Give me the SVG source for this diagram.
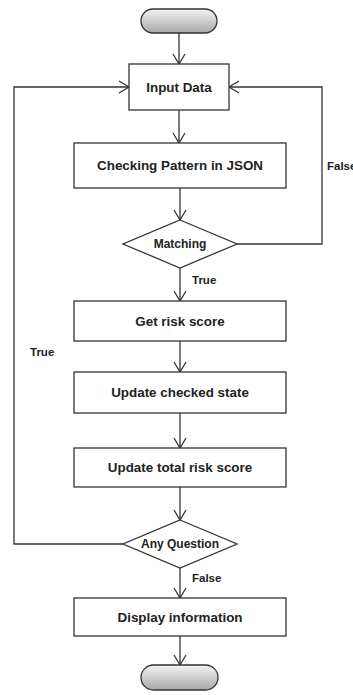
<svg xmlns="http://www.w3.org/2000/svg" width="353" height="695" viewBox="0 0 353 695">
<style>
.box{fill:#fff;stroke:#333;stroke-width:1.3}
.term{fill:url(#tg);stroke:#333;stroke-width:1.3}
.t{font-family:"Liberation Sans",Arial,sans-serif;font-weight:bold;font-size:13.4px;fill:#222;text-anchor:middle}
.s{font-family:"Liberation Sans",Arial,sans-serif;font-weight:bold;font-size:12px;fill:#222;text-anchor:middle}
.l{font-family:"Liberation Sans",Arial,sans-serif;font-weight:bold;font-size:11.5px;fill:#222}
.c{fill:none;stroke:#333;stroke-width:1.3}
</style>
<defs>
<linearGradient id="tg" x1="0" y1="0" x2="0" y2="1">
<stop offset="0" stop-color="#f4f4f4"/>
<stop offset="1" stop-color="#a8a8a8"/>
</linearGradient>
<marker id="a" markerWidth="14" markerHeight="14" refX="12" refY="7" orient="auto" markerUnits="userSpaceOnUse">
<path d="M2,1 L12,7 L2,13" fill="none" stroke="#333" stroke-width="1.3"/>
</marker>
</defs>
<rect width="353" height="695" fill="#fff"/>
<g id="connectors">
<path class="c" d="M179,33 V64" marker-end="url(#a)"/>
<path class="c" d="M179,110 V143" marker-end="url(#a)"/>
<path class="c" d="M180,188 V220" marker-end="url(#a)"/>
<path class="c" d="M237,244 H322 V87 H229" marker-end="url(#a)"/>
<path class="c" d="M180,268 V301" marker-end="url(#a)"/>
<path class="c" d="M180,341 V372" marker-end="url(#a)"/>
<path class="c" d="M180,413 V448" marker-end="url(#a)"/>
<path class="c" d="M180,487 V520" marker-end="url(#a)"/>
<path class="c" d="M123,544 H14 V87 H129" marker-end="url(#a)"/>
<path class="c" d="M180,568 V598" marker-end="url(#a)"/>
<path class="c" d="M180,636 V665" marker-end="url(#a)"/>
<text class="l" x="327" y="170">False</text>
<text class="l" x="192" y="284">True</text>
<text class="l" x="30" y="356">True</text>
<text class="l" x="192" y="582">False</text>
</g>
<g id="start"><rect class="term" x="141" y="9" width="76" height="24" rx="12"/></g>
<g id="input"><rect class="box" x="129" y="64" width="100" height="46"/><text class="t" x="179" y="92">Input Data</text></g>
<g id="checking"><rect class="box" x="74" y="143" width="212" height="45"/><text class="t" x="180" y="170">Checking Pattern in JSON</text></g>
<g id="matching"><path class="box" d="M180,220 L237,244 L180,268 L123,244 Z"/><text class="s" x="180" y="248">Matching</text></g>
<g id="getrisk"><rect class="box" x="74" y="301" width="212" height="40"/><text class="t" x="180" y="326">Get risk score</text></g>
<g id="updatechecked"><rect class="box" x="74" y="372" width="212" height="41"/><text class="t" x="180" y="397">Update checked state</text></g>
<g id="updatetotal"><rect class="box" x="74" y="448" width="212" height="39"/><text class="t" x="180" y="472">Update total risk score</text></g>
<g id="anyquestion"><path class="box" d="M180,520 L237,544 L180,568 L123,544 Z"/><text class="s" x="180" y="548">Any Question</text></g>
<g id="display"><rect class="box" x="74" y="598" width="212" height="38"/><text class="t" x="180" y="622">Display information</text></g>
<g id="end"><rect class="term" x="141" y="665" width="77" height="25" rx="12.5"/></g>
</svg>
